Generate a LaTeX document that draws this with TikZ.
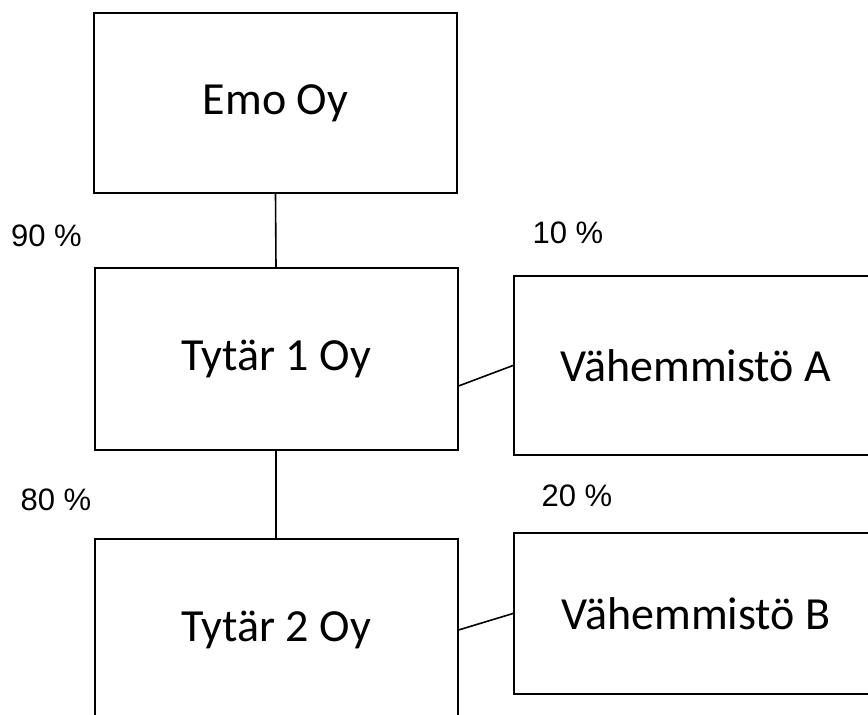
\documentclass[tikz,border=0pt]{standalone}
\usepackage{fontspec}
\setmainfont{Carlito}
\newfontfamily\pctfont{Liberation Sans}
\begin{document}
\begin{tikzpicture}[x=1pt,y=-1pt,
  orgbox/.style={draw=black, line width=2pt, fill=white, rectangle, inner sep=0pt,
    minimum width=363pt, font=\fontsize{46}{50}\selectfont},
  pct/.style={font=\pctfont\fontsize{31}{34}\selectfont, inner sep=0pt},
  conn/.style={draw=black, line width=1.6pt}]
\useasboundingbox (0,0) rectangle (868,715);
\clip (0,0) rectangle (868,715);
\fill[white] (0,0) rectangle (868,715);
\node[orgbox, minimum height=180pt] (emo) at (275.5,103) {Emo Oy};
\node[orgbox, minimum height=182pt] (t1) at (276,359) {Tytär 1 Oy};
\node[orgbox, minimum height=179pt, minimum width=364pt] (va) at (696,365.5) {Vähemmistö A};
\node[orgbox, minimum height=182pt] (t2) at (276,630) {Tytär 2 Oy};
\node[orgbox, minimum height=161pt, minimum width=364pt] (vb) at (696,613.5) {Vähemmistö B};
\draw[conn] (emo.south) -- (t1.north);
\draw[conn] (t1.south) -- (t2.north);
\draw[conn] ([yshift=-27pt]t1.east) -- (va.west);
\draw[conn] (t2.east) -- (vb.west);
\node[pct] (p90) at (46.5,236) {90 \%};
\node[pct] (p10) at (568,233) {10 \%};
\node[pct] (p80) at (56,500) {80 \%};
\node[pct] (p20) at (577,495.5) {20 \%};
\end{tikzpicture}
\end{document}
